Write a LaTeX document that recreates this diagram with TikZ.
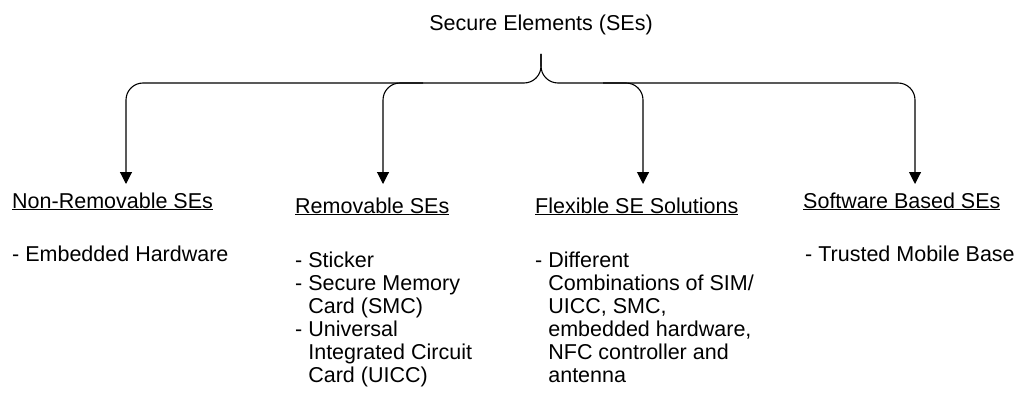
\documentclass[tikz,border=0pt]{standalone}
\usepackage{fontspec}
\setmainfont{Liberation Sans}
\usetikzlibrary{arrows.meta,positioning}
\newcommand{\seList}[1]{\begin{tabular}[t]{@{}l@{}}#1\end{tabular}}

\begin{document}
\begin{tikzpicture}[
    x=1pt, y=-1pt,
    every node/.style={inner sep=0pt, font=\fontsize{21.5pt}{23pt}\selectfont},
    head/.style={anchor=base west},
    list/.style={anchor=base west},
    branch/.style={line width=1.1pt, rounded corners=17pt, -{Triangle[length=12pt,width=12pt]}},
    brace/.style={line width=1.1pt, rounded corners=12pt}
]
\useasboundingbox (0,0) rectangle (1024,401);

% title
\node[anchor=base] (title) at (541,31) {Secure Elements (SEs)};

% headers
\node[head] (nonrem) at (12,208) {\underline{Non-Removable SEs}};
\node[head] (remov) at (295,213) {\underline{Removable SEs}};
\node[head] (flex) at (535,213) {\underline{Flexible SE Solutions}};
\node[head] (soft) at (803,208) {\underline{Software Based SEs}};

% lists
\node[list] (nonremList) at (12,261) {- Embedded Hardware};
\node[list] (removList) at (295,267) {\seList{- Sticker\\- Secure Memory\\\hphantom{- }Card (SMC)\\- Universal\\\hphantom{- }Integrated Circuit\\\hphantom{- }Card (UICC)}};
\node[list] (flexList) at (535,267) {\seList{- Different\\\hphantom{- }Combinations of SIM/\\\hphantom{- }UICC, SMC,\\\hphantom{- }embedded hardware,\\\hphantom{- }NFC controller and\\\hphantom{- }antenna}};
\node[list] (softList) at (805,261) {- Trusted Mobile Base};

% brace and arrow ends
\coordinate (braceTop) at (541,54);
\coordinate (braceMid) at (541,83);
\coordinate (nonremTip) at (126,184);
\coordinate (removTip) at (383,184);
\coordinate (flexTip) at (643,184);
\coordinate (softTip) at (915,184);

\draw[brace, branch] (braceTop) -- (braceMid) -- (nonremTip |- braceMid) -- (nonremTip);
\draw[brace, branch] (braceTop) -- (braceMid) -- (softTip |- braceMid) -- (softTip);
\draw[branch] ([xshift=40pt]removTip |- braceMid) -- (removTip |- braceMid) -- (removTip);
\draw[branch] ([xshift=-40pt]flexTip |- braceMid) -- (flexTip |- braceMid) -- (flexTip);
\end{tikzpicture}
\end{document}
